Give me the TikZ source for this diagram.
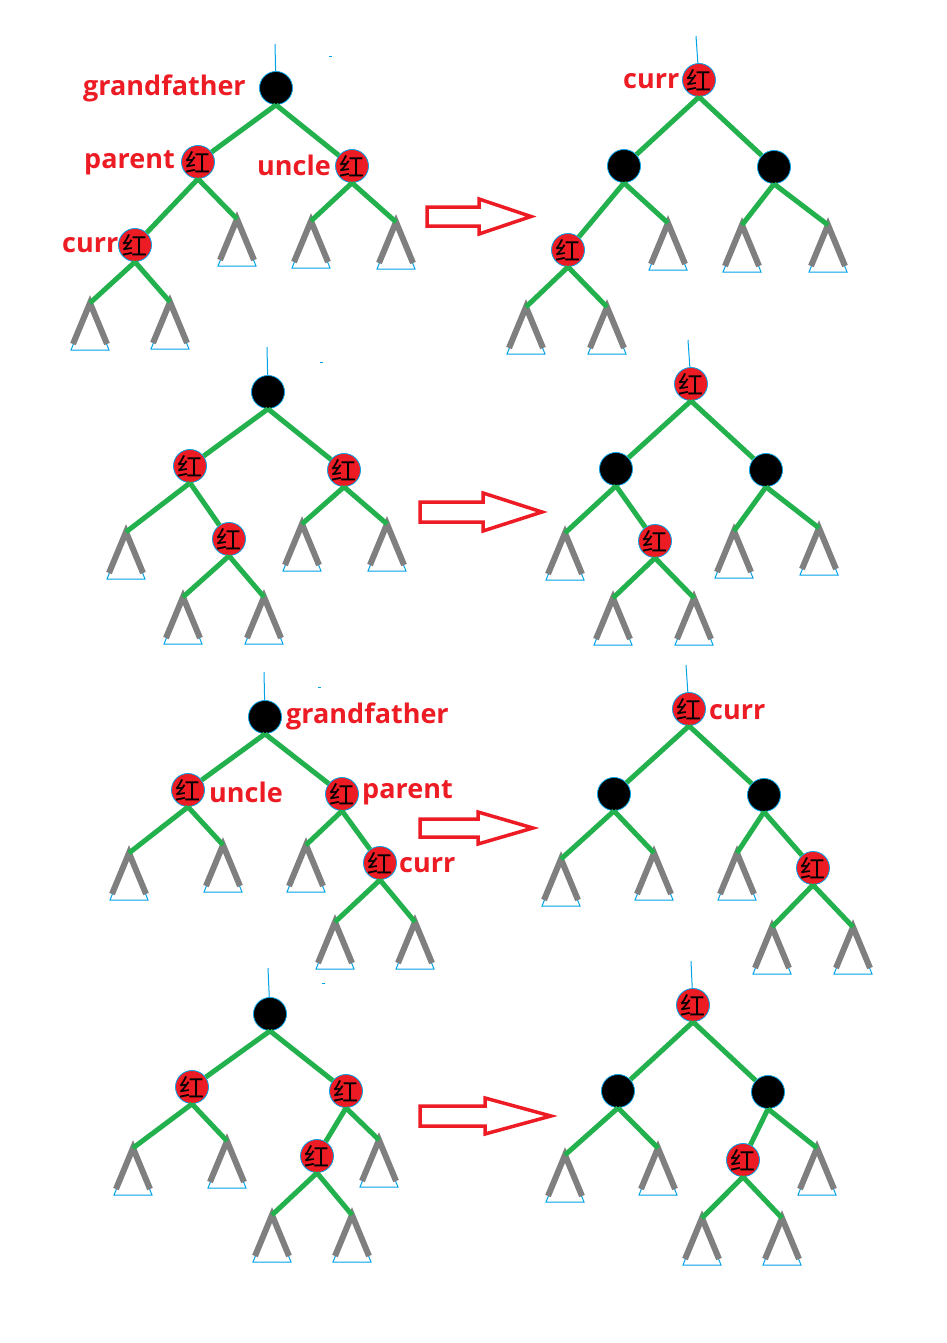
\documentclass[tikz,border=0pt]{standalone}
\usepackage{fontspec}
\newfontfamily\cjkfam{Noto Sans CJK SC}
\newfontfamily\labfam{Open Sans}
\definecolor{rbred}{HTML}{ED1C24}
\definecolor{treegreen}{HTML}{22B14C}
\definecolor{leggray}{HTML}{7F7F7F}
\definecolor{nodeblue}{HTML}{00A2E8}
\tikzset{
  rb/.style={circle, fill=rbred, draw=nodeblue, line width=0.8pt, minimum size=33pt, inner sep=0pt, font=\cjkfam\fontsize{25}{25}\selectfont},
  bk/.style={circle, fill=black, draw=nodeblue, line width=0.8pt, minimum size=33pt, inner sep=0pt},
  lbl/.style={text=rbred, font=\labfam\bfseries\fontsize{27}{27}\selectfont, inner sep=0pt, anchor=base west},
  tedge/.style={draw=treegreen, line width=5pt},
  stem/.style={draw=nodeblue, line width=1pt},
  bigarr/.style={draw=rbred, line width=3.5pt, line join=miter},
  subtree/.pic={
    \coordinate (-a) at (0,0);
    \draw[nodeblue, line width=1pt] (0,0) -- (-19,47) -- (19,47) -- cycle;
    \draw[leggray, line width=6pt] (-17,41) -- (0,0) -- (17,41);
  }
}
\newcommand\bigarrow[6]{% left, mid, shaft end, tip, half, head half
  \draw[bigarr] (#1,#2-#5) -- (#3,#2-#5) -- (#3,#2-#6) -- (#4,#2) -- (#3,#2+#6) -- (#3,#2+#5) -- (#1,#2+#5) -- cycle;}
\begin{document}
\begin{tikzpicture}[x=1pt,y=-1pt]
\useasboundingbox (0,0) rectangle (946,1343);
\fill[white] (0,0) rectangle (946,1343);

% ---------- Tree 1 left ----------
\pic (aT1) at (90,303) {subtree};
\pic (aT2) at (170,302) {subtree};
\pic (aT3) at (237,219) {subtree};
\pic (aT4) at (311,221) {subtree};
\pic (aT5) at (396,222) {subtree};
\coordinate (as) at (275,44);
\coordinate (ad1) at (329,57); \coordinate (ad2) at (332,57);
\draw[stem] (ad1) -- (ad2);
\node[bk] (aG) at (276,88) {};
\node[rb] (aP) at (198,162) {红};
\node[rb] (aU) at (352,166) {红};
\node[rb] (aC) at (135,245) {红};
\draw[stem] (as) -- (aG);
\draw[tedge] (aG.south) -- (aP);
\draw[tedge] (aG.south) -- (aU);
\draw[tedge] (aP.south) -- (aC);
\draw[tedge] (aP.south) -- (aT3-a);
\draw[tedge] (aU.south) -- (aT4-a);
\draw[tedge] (aU.south) -- (aT5-a);
\draw[tedge] (aC.south) -- (aT1-a);
\draw[tedge] (aC.south) -- (aT2-a);
\node[lbl] (al1) at (83,96) {grandfather};
\node[lbl] (al2) at (84,169) {parent};
\node[lbl] (al3) at (257,176) {uncle};
\node[lbl] (al4) at (62,252) {curr};

\bigarrow{427}{216.5}{479}{531}{9.5}{17.5}

% ---------- Tree 1 right ----------
\pic (bT1) at (668,223) {subtree};
\pic (bT2) at (742,225) {subtree};
\pic (bT3) at (828,225) {subtree};
\pic (bT4) at (526,307) {subtree};
\pic (bT5) at (607,307) {subtree};
\coordinate (bs) at (696,36);
\node[rb] (bR) at (699,80) {红};
\node[bk] (bL) at (624,166) {};
\node[bk] (bRR) at (774,167) {};
\node[rb] (bLL) at (568,250) {红};
\draw[stem] (bs) -- (bR);
\draw[tedge] (bR.south) -- (bL);
\draw[tedge] (bR.south) -- (bRR);
\draw[tedge] (bL.south) -- (bLL);
\draw[tedge] (bL.south) -- (bT1-a);
\draw[tedge] (bRR.south) -- (bT2-a);
\draw[tedge] (bRR.south) -- (bT3-a);
\draw[tedge] (bLL.south) -- (bT4-a);
\draw[tedge] (bLL.south) -- (bT5-a);
\node[lbl] (bl1) at (623,89) {curr};

% ---------- Tree 2 left ----------
\pic (cT1) at (126,532) {subtree};
\pic (cT2) at (183,597) {subtree};
\pic (cT3) at (264,597) {subtree};
\pic (cT4) at (302,524) {subtree};
\pic (cT5) at (387,524) {subtree};
\coordinate (cs) at (267,347);
\coordinate (cd1) at (320,362); \coordinate (cd2) at (323,362);
\draw[stem] (cd1) -- (cd2);
\node[bk] (cG) at (268,392) {};
\node[rb] (cL) at (190,466) {红};
\node[rb] (cR) at (344,470) {红};
\node[rb] (cLR) at (229,539) {红};
\draw[stem] (cs) -- (cG);
\draw[tedge] (cG.south) -- (cL);
\draw[tedge] (cG.south) -- (cR);
\draw[tedge] (cL.south) -- (cT1-a);
\draw[tedge] (cL.south) -- (cLR);
\draw[tedge] (cLR.south) -- (cT2-a);
\draw[tedge] (cLR.south) -- (cT3-a);
\draw[tedge] (cR.south) -- (cT4-a);
\draw[tedge] (cR.south) -- (cT5-a);

\bigarrow{420}{512}{483}{542}{10}{19}

% ---------- Tree 2 right ----------
\pic (dT1) at (565,533) {subtree};
\pic (dT2) at (613,598) {subtree};
\pic (dT3) at (694,598) {subtree};
\pic (dT4) at (734,531) {subtree};
\pic (dT5) at (819,528) {subtree};
\coordinate (ds) at (688,340);
\node[rb] (dR) at (691,384) {红};
\node[bk] (dL) at (616,469) {};
\node[bk] (dRR) at (766,470) {};
\node[rb] (dLR) at (655,541) {红};
\draw[stem] (ds) -- (dR);
\draw[tedge] (dR.south) -- (dL);
\draw[tedge] (dR.south) -- (dRR);
\draw[tedge] (dL.south) -- (dT1-a);
\draw[tedge] (dL.south) -- (dLR);
\draw[tedge] (dLR.south) -- (dT2-a);
\draw[tedge] (dLR.south) -- (dT3-a);
\draw[tedge] (dRR.south) -- (dT4-a);
\draw[tedge] (dRR.south) -- (dT5-a);

% ---------- Tree 3 left ----------
\pic (eT1) at (129,853) {subtree};
\pic (eT2) at (223,845) {subtree};
\pic (eT3) at (306,845) {subtree};
\pic (eT4) at (335,922) {subtree};
\pic (eT5) at (415,922) {subtree};
\coordinate (es) at (264,672);
\coordinate (ed1) at (318,687); \coordinate (ed2) at (321,687);
\draw[stem] (ed1) -- (ed2);
\node[bk] (eG) at (265,717) {};
\node[rb] (eU) at (188,790) {红};
\node[rb] (eP) at (342,794) {红};
\node[rb] (eC) at (380,863) {红};
\draw[stem] (es) -- (eG);
\draw[tedge] (eG.south) -- (eU);
\draw[tedge] (eG.south) -- (eP);
\draw[tedge] (eU.south) -- (eT1-a);
\draw[tedge] (eU.south) -- (eT2-a);
\draw[tedge] (eP.south) -- (eT3-a);
\draw[tedge] (eP.south) -- (eC);
\draw[tedge] (eC.south) -- (eT4-a);
\draw[tedge] (eC.south) -- (eT5-a);
\node[lbl] (el1) at (286,723) {grandfather};
\node[lbl] (el2) at (209,802) {uncle};
\node[lbl] (el3) at (362,798) {parent};
\node[lbl] (el4) at (399,872) {curr};

\bigarrow{420}{828}{478}{533}{9}{16}

% ---------- Tree 3 right ----------
\pic (fT1) at (561,859) {subtree};
\pic (fT2) at (654,853) {subtree};
\pic (fT3) at (737,853) {subtree};
\pic (fT4) at (772,927) {subtree};
\pic (fT5) at (853,927) {subtree};
\coordinate (fs) at (686,665);
\node[rb] (fR) at (689,709) {红};
\node[bk] (fL) at (614,794) {};
\node[bk] (fRR) at (764,795) {};
\node[rb] (fRRR) at (813,868) {红};
\draw[stem] (fs) -- (fR);
\draw[tedge] (fR.south) -- (fL);
\draw[tedge] (fR.south) -- (fRR);
\draw[tedge] (fL.south) -- (fT1-a);
\draw[tedge] (fL.south) -- (fT2-a);
\draw[tedge] (fRR.south) -- (fT3-a);
\draw[tedge] (fRR.south) -- (fRRR);
\draw[tedge] (fRRR.south) -- (fT4-a);
\draw[tedge] (fRRR.south) -- (fT5-a);
\node[lbl] (fl1) at (709,719) {curr};

% ---------- Tree 4 left ----------
\pic (gT1) at (133,1148) {subtree};
\pic (gT2) at (227,1141) {subtree};
\pic (gT3) at (379,1140) {subtree};
\pic (gT4) at (272,1215) {subtree};
\pic (gT5) at (352,1215) {subtree};
\coordinate (gs) at (268,968);
\coordinate (gd1) at (322,983); \coordinate (gd2) at (325,983);
\draw[stem] (gd1) -- (gd2);
\node[bk] (gG) at (270,1014) {};
\node[rb] (gL) at (192,1087) {红};
\node[rb] (gR) at (346,1091) {红};
\node[rb] (gRL) at (317,1156) {红};
\draw[stem] (gs) -- (gG);
\draw[tedge] (gG.south) -- (gL);
\draw[tedge] (gG.south) -- (gR);
\draw[tedge] (gL.south) -- (gT1-a);
\draw[tedge] (gL.south) -- (gT2-a);
\draw[tedge] (gR.south) -- (gRL);
\draw[tedge] (gR.south) -- (gT3-a);
\draw[tedge] (gRL.south) -- (gT4-a);
\draw[tedge] (gRL.south) -- (gT5-a);

\bigarrow{420}{1116}{485}{551}{10}{18}

% ---------- Tree 4 right ----------
\pic (hT1) at (565,1155) {subtree};
\pic (hT2) at (658,1148) {subtree};
\pic (hT3) at (817,1148) {subtree};
\pic (hT4) at (702,1218) {subtree};
\pic (hT5) at (782,1218) {subtree};
\coordinate (hs) at (691,961);
\node[rb] (hR) at (693,1005) {红};
\node[bk] (hL) at (618,1091) {};
\node[bk] (hRR) at (768,1092) {};
\node[rb] (hRL) at (743,1160) {红};
\draw[stem] (hs) -- (hR);
\draw[tedge] (hR.south) -- (hL);
\draw[tedge] (hR.south) -- (hRR);
\draw[tedge] (hL.south) -- (hT1-a);
\draw[tedge] (hL.south) -- (hT2-a);
\draw[tedge] (hRR.south) -- (hRL);
\draw[tedge] (hRR.south) -- (hT3-a);
\draw[tedge] (hRL.south) -- (hT4-a);
\draw[tedge] (hRL.south) -- (hT5-a);
\end{tikzpicture}
\end{document}
